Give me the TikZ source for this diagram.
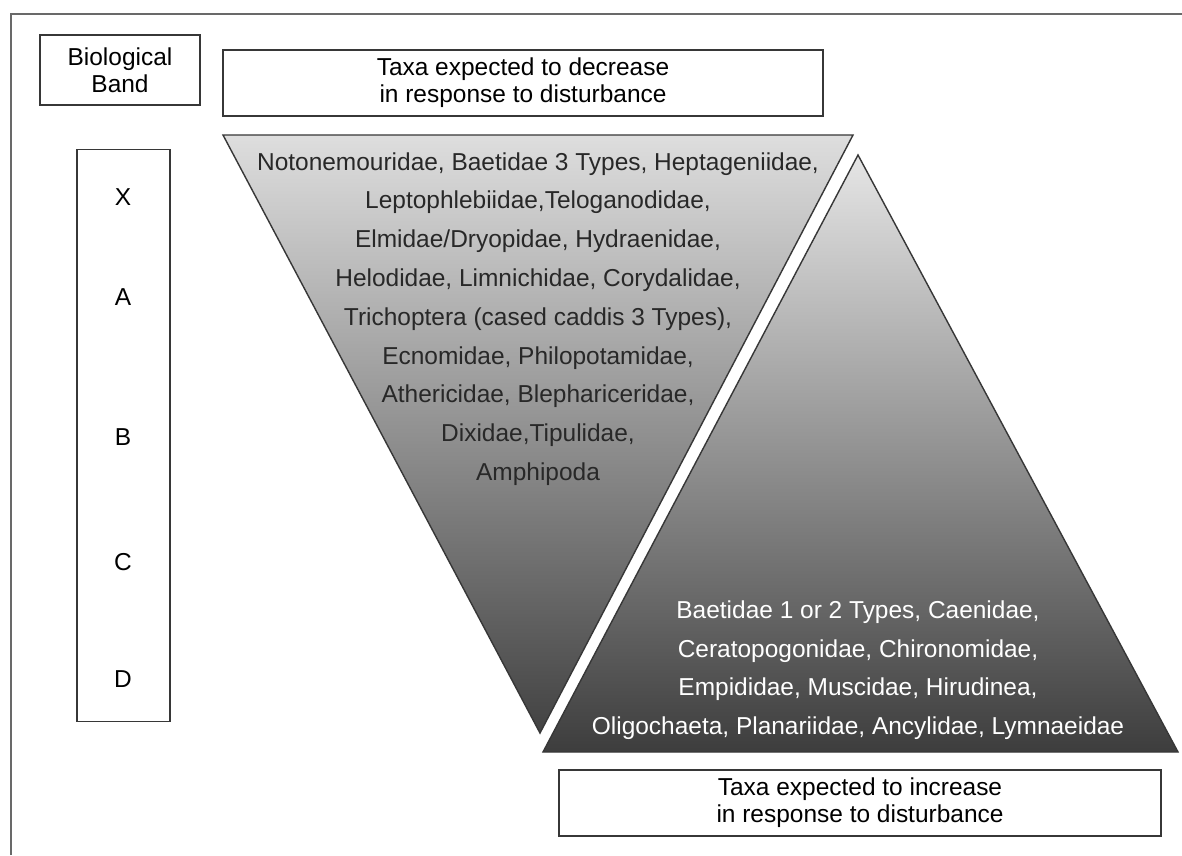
\documentclass[tikz,border=0pt]{standalone}
\usepackage{fontspec}
\setmainfont{Liberation Sans}
\usetikzlibrary{positioning}
\definecolor{framegrey}{RGB}{105,105,105}
\definecolor{edgegrey}{RGB}{55,55,55}
\definecolor{inktext}{RGB}{40,40,40}

\begin{document}
\begin{tikzpicture}[x=0.025cm, y=-0.025cm,
          labelbox/.style={draw=edgegrey, line width=0.9pt, fill=white, inner sep=0pt, align=center, font=\fontsize{17.4}{19.4}\selectfont},
          bandletter/.style={font=\fontsize{17.4}{20}\selectfont, inner sep=0pt},
          taxatext/.style={align=center, font=\fontsize{17.4}{27.6}\selectfont, inner sep=0pt},
          wedge/.style={draw=edgegrey, line width=1pt}
        ]
          \useasboundingbox (0,0) rectangle (1182,855);
          \fill[white] (0,0) rectangle (1182,855);
          \draw[framegrey, line width=1.4pt] (11,855) -- (11,14) -- (1182,14);

          % header boxes
          \node[labelbox, minimum width=4cm, minimum height=1.75cm] (band head) at (120,70) {Biological\\Band};
          \node[labelbox, minimum width=15cm, minimum height=1.65cm] (decr) at (523,83) {Taxa expected to decrease\\in response to disturbance};

          % band column
          \node[labelbox, minimum width=2.325cm, minimum height=14.3cm] (band) at (123.5,435.5) {};
          \node[bandletter] (bx) at (123,197) {X};
          \node[bandletter] (ba) at (123,297) {A};
          \node[bandletter] (bb) at (123,437) {B};
          \node[bandletter] (bc) at (123,562) {C};
          \node[bandletter] (bd) at (123,679) {D};

          % sensitive taxa, shrinking downwards
          \shade[top color=black!13, bottom color=black!74] (223,135) -- (853,135) -- (540,733) -- cycle;
          \draw[wedge] (223,135) -- (853,135) -- (540,733) -- cycle;
          % tolerant taxa, growing downwards
          \shade[top color=black!10, bottom color=black!76] (858,155) -- (1178,752) -- (543,752) -- cycle;
          \draw[wedge] (858,155) -- (1178,752) -- (543,752) -- cycle;

          \node[taxatext, text=inktext, anchor=north] (sens) at (538,152) {Notonemouridae, Baetidae 3 Types, Heptageniidae,\\
            Leptophlebiidae,Teloganodidae,\\
            Elmidae/Dryopidae, Hydraenidae,\\
            Helodidae, Limnichidae, Corydalidae,\\
            Trichoptera (cased caddis 3 Types),\\
            Ecnomidae, Philopotamidae,\\
            Athericidae, Blephariceridae,\\
            Dixidae,Tipulidae,\\
            Amphipoda};
          \node[taxatext, text=white, anchor=south] (tol) at (858,740) {Baetidae 1 or 2 Types, Caenidae,\\
            Ceratopogonidae, Chironomidae,\\
            Empididae, Muscidae, Hirudinea,\\
            Oligochaeta, Planariidae, Ancylidae, Lymnaeidae};

          \node[labelbox, minimum width=15.05cm, minimum height=1.65cm] (incr) at (860,803) {Taxa expected to increase\\in response to disturbance};
        \end{tikzpicture}
\end{document}
